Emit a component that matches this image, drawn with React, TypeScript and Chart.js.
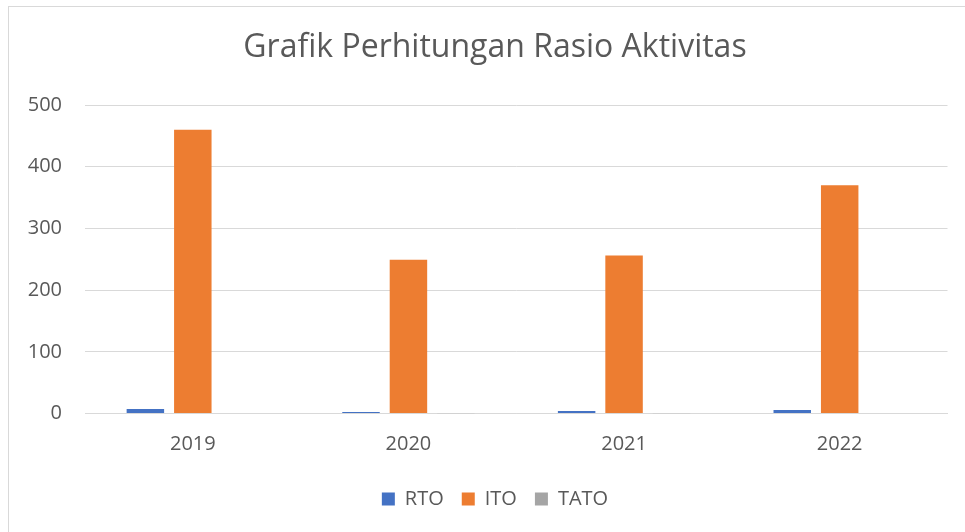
import React, { useEffect, useRef } from "react";
import { Chart, registerables } from "chart.js";

Chart.register(...registerables);

const categories = ["2019", "2020", "2021", "2022"];
const rtoValues = [7.3, 2.4, 4.0, 5.7];
const itoValues = [460, 249, 256, 370];
const tatoValues = [0.8, 0.5, 0.6, 0.7];
const yTicks = [0, 100, 200, 300, 400, 500];
const titleText = "Grafik Perhitungan Rasio Aktivitas";

const FONT = "'Open Sans', 'Noto Sans', sans-serif";
const TEXT = "#595959";
const GRID = "#d9d9d9";

const widenYAxis = {
  id: "widenYAxis",
  afterLayout(chart: any) {
    const y = chart.scales.y;
    if (y) {
      y.width = y.right;
      y.left = 0;
    }
  },
};

export default function App() {
  const ref = useRef<HTMLCanvasElement | null>(null);

  useEffect(() => {
    if (!ref.current) return;
    const chart = new Chart(ref.current, {
      type: "bar",
      data: {
        labels: categories,
        datasets: [
          { label: "RTO", data: rtoValues, backgroundColor: "#4472C4" },
          { label: "ITO", data: itoValues, backgroundColor: "#ED7D31" },
          { label: "TATO", data: tatoValues, backgroundColor: "#A5A5A5" },
        ],
      },
      options: {
        animation: false,
        responsive: false,
        maintainAspectRatio: false,
        datasets: { bar: { categoryPercentage: 0.66, barPercentage: 0.79 } },
        layout: { padding: { left: 33.5, right: 28.5, top: 0, bottom: 26 } },
        plugins: {
          title: {
            display: true,
            text: titleText,
            color: TEXT,
            font: { family: FONT, size: 32, weight: "normal" },
            padding: { top: 22, bottom: 37.6 },
          },
          legend: {
            position: "bottom",
            labels: {
              color: TEXT,
              font: { family: FONT, size: 20 },
              boxWidth: 13,
              boxHeight: 13,
              padding: 18,
            },
          },
          tooltip: { enabled: false },
        },
        scales: {
          x: {
            grid: { display: false, drawTicks: false },
            border: { display: true, color: GRID, width: 1 },
            ticks: { color: TEXT, font: { family: FONT, size: 20 }, padding: 19 },
            afterFit: (s: any) => {
              const lh = s.chart.legend ? s.chart.legend.height : 0;
              s.height = s.chart.height - 26 - lh - 406.5;
            },
          },
          y: {
            min: 0,
            max: 500,
            afterBuildTicks: (s: any) => {
              s.ticks = yTicks.map((v) => ({ value: v }));
            },
            grid: { color: GRID, drawTicks: false },
            border: { display: false },
            ticks: { color: TEXT, font: { family: FONT, size: 20 }, padding: 23 },
            afterFit: (s: any) => {
              s.width = 42.5;
            },
          },
        },
      },
      plugins: [widenYAxis],
    });
    return () => chart.destroy();
  }, []);

  return (
    <div
      style={{
        position: "fixed",
        left: 0,
        top: 0,
        width: 965,
        height: 532,
        overflow: "hidden",
        background: "#fff",
      }}
    >
      <div
        style={{
          position: "absolute",
          left: 8,
          top: 6,
          width: 969,
          height: 540,
          border: `1px solid ${GRID}`,
          boxSizing: "border-box",
          background: "#fff",
        }}
      >
        <canvas ref={ref} width={967} height={538} style={{ display: "block" }} />
      </div>
    </div>
  );
}
